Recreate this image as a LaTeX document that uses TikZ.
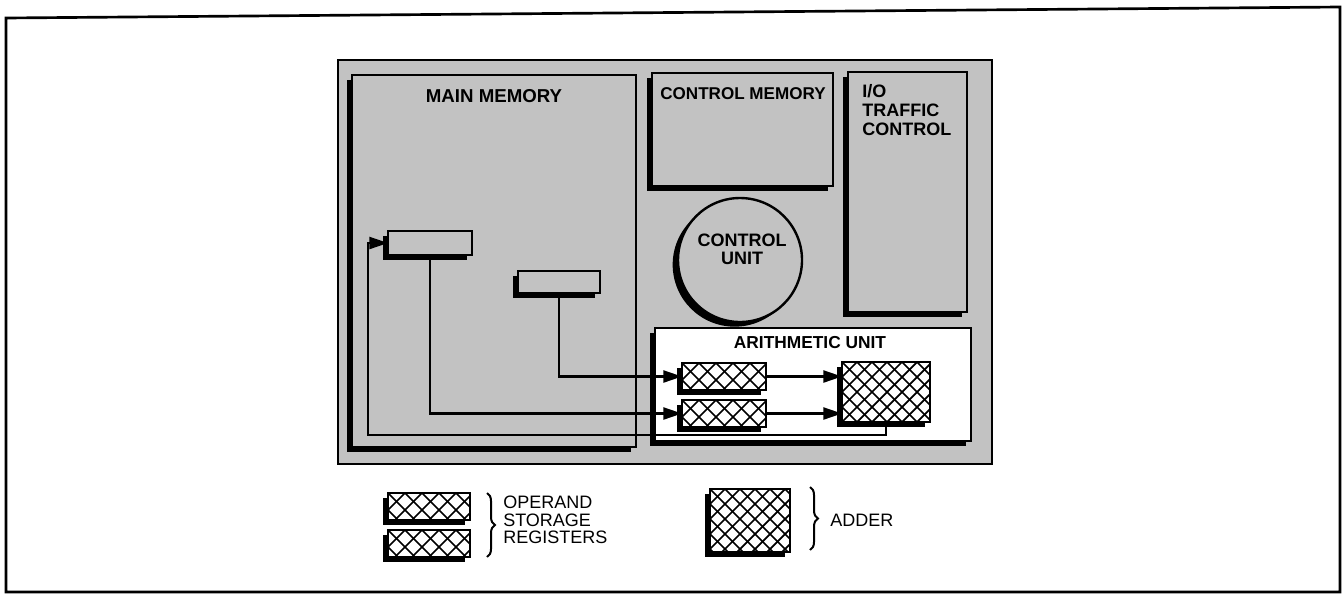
\documentclass[tikz,border=0pt]{standalone}
\usepackage{fontspec}
\setmainfont{Liberation Sans}
\usetikzlibrary{shadows,arrows.meta,calc,decorations.pathreplacing}
\definecolor{panelgray}{gray}{0.76}
\tikzset{
  box/.style={draw, line width=1.8pt, rectangle, inner sep=0pt, outer sep=0pt,
    drop shadow={shadow xshift=-4pt, shadow yshift=-3.5pt, fill=black, opacity=1}},
  graybox/.style={box, fill=panelgray},
  whitebox/.style={box, fill=white},
  hatchline/.style={line width=1.3pt},
  conn/.style={line width=1.7pt},
  arr/.style={conn, -{Triangle[length=14pt,width=9pt]}},
  lbl/.style={font=\bfseries\fontsize{13}{14.5}\selectfont, inner sep=0pt, align=center},
  leg/.style={font=\fontsize{13.5}{13.2}\selectfont, inner sep=0pt, align=left},
  brc/.style={line width=1.5pt, decorate, decoration={brace, amplitude=6pt}},
}
\newcommand{\hatchin}[2]{%
  \begin{scope}
    \clip (#1.south west) rectangle (#1.north east);
    \foreach \k in {-10,...,16}{
      \draw[hatchline] ($(#1.north west)+(\k*#2,0)$) -- ++(150,150);
      \draw[hatchline] ($(#1.north west)+(\k*#2,0)$) -- ++(-150,150);
    }
  \end{scope}
  \draw[line width=1.8pt] (#1.south west) rectangle (#1.north east);}
\begin{document}
\begin{tikzpicture}[x=0.75pt,y=-0.75pt]
\useasboundingbox (0,0) rectangle (1344,604);
% outer frame
\draw[line width=2pt] (6,18) -- (1340,7) -- (1340,592) -- (6,592) -- cycle;
% gray panel
\draw[line width=1.4pt, fill=panelgray] (338,60) rectangle (992,464);
% boxes
\node[graybox, minimum width=213pt, minimum height=279pt] (MM) at (494,261) {};
\node[graybox, minimum width=135.75pt, minimum height=84.75pt] (CM) at (742.5,129.5) {};
\node[graybox, minimum width=89.25pt, minimum height=180pt] (IO) at (907.5,192) {};
\node[box, circle, fill=panelgray, minimum size=93pt] (CU) at (740,260) {};
\node[whitebox, minimum width=237pt, minimum height=84.75pt] (AU) at (813,384.5) {};
% memory registers
\node[graybox, minimum width=63pt, minimum height=18pt] (A) at (430,243) {};
\node[graybox, minimum width=61.5pt, minimum height=16.5pt] (B) at (559,282) {};
% operand registers and adder
\node[whitebox, minimum width=63pt, minimum height=20.25pt] (R1) at (724,376.5) {};
\node[whitebox, minimum width=63pt, minimum height=20.25pt] (R2) at (724,413.5) {};
\node[whitebox, minimum width=66pt, minimum height=45pt] (AD) at (886,392) {};
\hatchin{R1}{17}
\hatchin{R2}{17}
\hatchin{AD}{15}
% legend
\node[whitebox, minimum width=61.5pt, minimum height=20.25pt] (L1) at (429,506.5) {};
\node[whitebox, minimum width=61.5pt, minimum height=20.25pt] (L2) at (429,543.5) {};
\node[whitebox, minimum width=60pt, minimum height=47.25pt] (LA) at (750,520.5) {};
\hatchin{L1}{17}
\hatchin{L2}{17}
\hatchin{LA}{15}
% connectors
\draw[arr] (B.south) |- (R1.west);
\draw[arr] (A.south) |- (R2.west);
\draw[arr] (R1.east) -- (R1.east -| AD.west);
\draw[arr] (R2.east) -- (R2.east -| AD.west);
\coordinate (fb) at (368,435);
\draw[arr] (AD.south) |- (fb) |- (A.west);
% labels
\node[lbl, font=\bfseries\fontsize{14}{15}\selectfont] (tMM) at (494,96) {MAIN MEMORY};
\node[lbl, font=\bfseries\fontsize{12.8}{14}\selectfont] (tCM) at (743,94) {CONTROL MEMORY};
\node[lbl, align=left, anchor=north west, font=\bfseries\fontsize{13.5}{14.5}\selectfont] (tIO) at (862,84) {I/O\\TRAFFIC\\CONTROL};
\node[lbl, font=\bfseries\fontsize{13.5}{13.5}\selectfont] (tCU) at (742,249) {CONTROL\\UNIT};
\node[lbl, font=\bfseries\fontsize{13}{14}\selectfont] (tAU) at (810,343) {ARITHMETIC UNIT};
% legend braces and text
\draw[brc] ($(L1.north east)+(17,0)$) -- ($(L2.south east)+(17,0)$);
\node[leg, anchor=west] (tOP) at (503,520) {OPERAND\\STORAGE\\REGISTERS};
\draw[brc] ($(LA.north east)+(20,-2)$) -- ($(LA.south east)+(20,-2)$);
\node[leg, anchor=west] (tAD) at (830,520) {ADDER};
\end{tikzpicture}
\end{document}
